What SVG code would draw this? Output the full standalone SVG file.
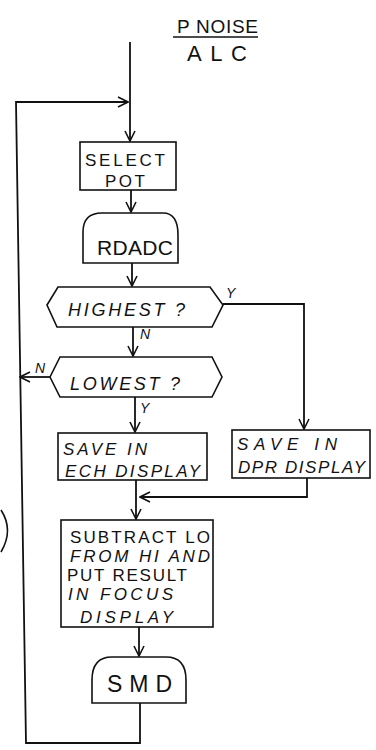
<svg xmlns="http://www.w3.org/2000/svg" width="376" height="750" viewBox="0 0 376 750">
<style>
.shape{fill:none;stroke:#111;stroke-width:1.6}
.conn{fill:none;stroke:#111;stroke-width:1.8}
text{font-family:"Liberation Sans","DejaVu Sans",sans-serif;fill:#111}
.t{font-size:17px}
.lbl{font-size:14px;font-style:italic}
</style>
<defs>
<marker id="ah" viewBox="0 0 12 12" refX="11" refY="6" markerWidth="12" markerHeight="12" markerUnits="userSpaceOnUse" orient="auto">
<polyline points="1,1 11,6 1,11" fill="none" stroke="#111" stroke-width="1.6"/>
</marker>
</defs>
<rect width="376" height="750" fill="#fff"/>
<g id="title">
<text x="177" y="33" font-size="19" textLength="81" lengthAdjust="spacing">P NOISE</text>
<line x1="173" y1="37" x2="258" y2="37" stroke="#111" stroke-width="1.6"/>
<text x="187" y="61" font-size="22" textLength="60" lengthAdjust="spacing">ALC</text>
</g>
<g id="connectors">
<line class="conn" x1="130" y1="42" x2="130" y2="141" marker-end="url(#ah)"/>
<polyline class="conn" points="140,703 140,743 26,743 16,102 128,102" marker-end="url(#ah)"/>
<line class="conn" x1="131" y1="190" x2="131" y2="212" marker-end="url(#ah)"/>
<line class="conn" x1="132" y1="263" x2="132" y2="286" marker-end="url(#ah)"/>
<line class="conn" x1="133" y1="327" x2="133" y2="356" marker-end="url(#ah)"/>
<line class="conn" x1="50" y1="377" x2="20" y2="377" marker-end="url(#ah)"/>
<line class="conn" x1="135" y1="397" x2="135" y2="432" marker-end="url(#ah)"/>
<polyline class="conn" points="223,304 304,304 304,429" marker-end="url(#ah)"/>
<line class="conn" x1="136" y1="480" x2="136" y2="519" marker-end="url(#ah)"/>
<polyline class="conn" points="307,478 307,497 140,497" marker-end="url(#ah)"/>
<line class="conn" x1="139" y1="627" x2="139" y2="656" marker-end="url(#ah)"/>
<text class="lbl" x="226" y="298">Y</text>
<text class="lbl" x="140" y="339">N</text>
<text class="lbl" x="35" y="373">N</text>
<text class="lbl" x="140" y="413">Y</text>
</g>
<g id="select-pot">
<rect class="shape" x="80" y="142" width="96" height="48"/>
<text class="t" x="85" y="166" textLength="80" lengthAdjust="spacing">SELECT</text>
<text class="t" x="105" y="187" textLength="40" lengthAdjust="spacing">POT</text>
</g>
<g id="rdadc">
<path class="shape" d="M83,263 L83,232 Q83,213 102,213 L163,213 Q178,213 178,235 L178,263 Z"/>
<text x="97" y="255" font-size="21" textLength="76" lengthAdjust="spacing">RDADC</text>
</g>
<g id="highest">
<polygon class="shape" points="47,305 58,287 210,287 223,305 212,327 57,327"/>
<text x="68" y="316" font-size="18" font-style="italic" textLength="117" lengthAdjust="spacing">HIGHEST ?</text>
</g>
<g id="lowest">
<polygon class="shape" points="50,377 60,357 212,357 222,377 212,397 60,397"/>
<text x="70" y="390" font-size="18" font-style="italic" textLength="110" lengthAdjust="spacing">LOWEST ?</text>
</g>
<g id="save-ech">
<rect class="shape" x="58" y="433" width="149" height="47"/>
<text class="t" x="63" y="455" font-style="italic" textLength="84" lengthAdjust="spacing">SAVE IN</text>
<text class="t" x="65" y="477" font-style="italic" textLength="135" lengthAdjust="spacing">ECH DISPLAY</text>
</g>
<g id="save-dpr">
<rect class="shape" x="232" y="430" width="138" height="48"/>
<text class="t" x="237" y="450" font-style="italic" textLength="100" lengthAdjust="spacing">SAVE IN</text>
<text class="t" x="238" y="473" font-style="italic" textLength="127" lengthAdjust="spacing">DPR DISPLAY</text>
</g>
<g id="subtract">
<rect class="shape" x="61" y="520" width="152" height="107"/>
<text class="t" x="70" y="543" textLength="140" lengthAdjust="spacing">SUBTRACT LO</text>
<text class="t" x="70" y="562" font-style="italic" textLength="140" lengthAdjust="spacing">FROM HI AND</text>
<text class="t" x="67" y="581" textLength="120" lengthAdjust="spacing">PUT RESULT</text>
<text class="t" x="68" y="600" font-style="italic" textLength="105" lengthAdjust="spacing">IN FOCUS</text>
<text class="t" x="80" y="623" font-style="italic" textLength="93" lengthAdjust="spacing">DISPLAY</text>
</g>
<g id="smd">
<path class="shape" d="M92,703 L92,680 Q92,657 112,657 L166,657 Q186,657 186,680 L186,703 Z"/>
<text x="107" y="692" font-size="23" textLength="65" lengthAdjust="spacing">SMD</text>
</g>
<path class="shape" d="M1,510 Q14,530 1,552"/>
</svg>
